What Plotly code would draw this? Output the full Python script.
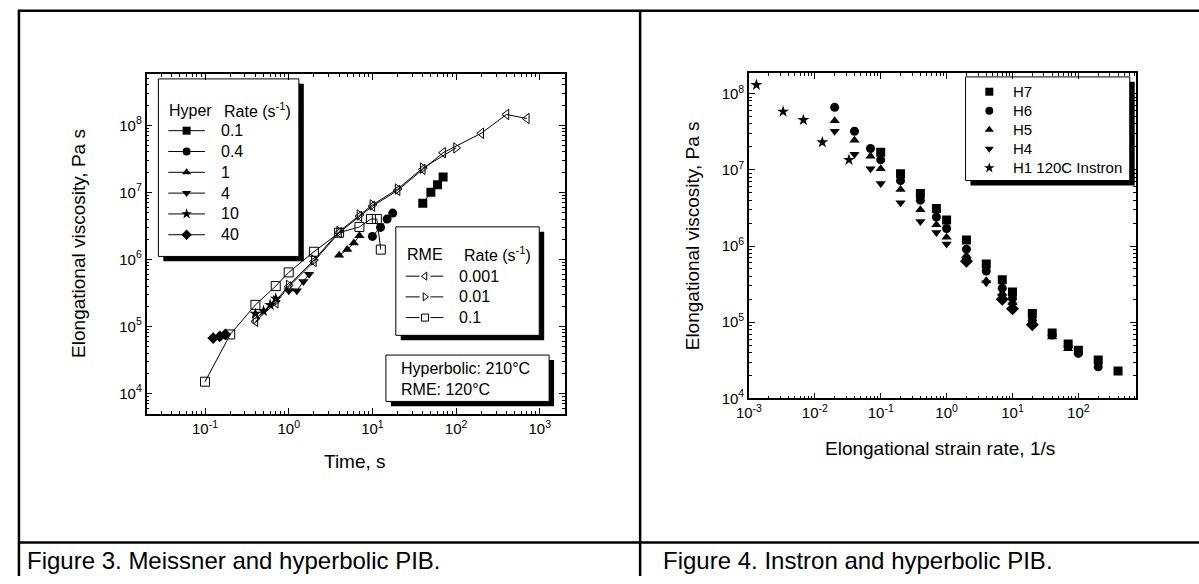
import plotly.graph_objects as go

W, H = 1199, 584
FONT = "Liberation Sans, Arial, sans-serif"

# ---------------- Figure 3 data (left) ----------------
hyper_labels = ["0.1", "0.4", "1", "4", "10", "40"]
hyper_symbols = ["square", "circle", "triangle-up", "triangle-down", "star", "diamond"]
hyper_t = [
    [40, 50, 60, 70],
    [10, 12.5, 15, 17.5],
    [4, 5, 6, 7],
    [1, 1.25, 1.5, 1.75],
    [0.4, 0.5, 0.6, 0.7],
    [0.125, 0.15, 0.175],
]
hyper_eta = [
    [6.9e6, 1.0e7, 1.3e7, 1.7e7],
    [2.2e6, 3.0e6, 4.0e6, 4.9e6],
    [1.15e6, 1.4e6, 1.75e6, 2.25e6],
    [3.4e5, 3.4e5, 4.7e5, 6.0e5],
    [1.55e5, 1.7e5, 2.1e5, 2.6e5],
    [6.7e4, 7.1e4, 7.6e4],
]

rme_labels = ["0.001", "0.01", "0.1"]
rme_symbols = ["triangle-left-open", "triangle-right-open", "square-open"]
rme_t = [
    [0.4, 0.7, 1, 2, 4, 7, 10, 20, 40, 70, 200, 400, 700],
    [0.4, 0.7, 1, 2, 4, 7, 10, 20, 40, 100],
    [0.1, 0.2, 0.4, 0.7, 1, 2, 4, 7, 9.6, 11.3, 12.6],
]
rme_eta = [
    [1.19e5, 2.25e5, 3.9e5, 9.3e5, 2.5e6, 4.4e6, 6.2e6, 1.07e7, 2.2e7, 3.9e7, 7.6e7, 1.45e8, 1.26e8],
    [1.3e5, 2.4e5, 4.1e5, 9.8e5, 2.6e6, 4.6e6, 6.5e6, 1.12e7, 2.3e7, 4.6e7],
    [1.5e4, 7.6e4, 2.1e5, 4.0e5, 6.4e5, 1.3e6, 2.5e6, 3.05e6, 4.0e6, 4.0e6, 1.4e6],
]

left_xticks = [0.1, 1, 10, 100, 1000]
left_xticktext = ["10<sup>-1</sup>", "10<sup>0</sup>", "10<sup>1</sup>", "10<sup>2</sup>", "10<sup>3</sup>"]
left_yticks = [1e4, 1e5, 1e6, 1e7, 1e8]
left_yticktext = ["10<sup>4</sup>", "10<sup>5</sup>", "10<sup>6</sup>", "10<sup>7</sup>", "10<sup>8</sup>"]

# ---------------- Figure 4 data (right) ----------------
r_labels = ["H7", "H6", "H5", "H4", "H1 120C Instron"]
r_symbols = ["square", "circle", "triangle-up", "triangle-down", "star"]
r_rate = [
    [0.1, 0.2, 0.4, 0.7, 1, 2, 4, 7, 10, 20, 40, 70, 100, 200, 400],
    [0.02, 0.04, 0.07, 0.1, 0.2, 0.4, 0.7, 1, 2, 4, 7, 10, 20, 40, 70, 100, 200],
    [0.02, 0.04, 0.07, 0.1, 0.2, 0.4, 0.7, 1, 2, 4, 7, 10, 20, 40, 70],
    [0.02, 0.04, 0.07, 0.1, 0.2, 0.4, 0.7, 1, 2, 4, 7, 10, 20],
    [0.0013, 0.0033, 0.0067, 0.013, 0.033],
]
r_eta = [
    [1.7e7, 8.9e6, 4.9e6, 3.1e6, 2.2e6, 1.2e6, 5.8e5, 3.6e5, 2.5e5, 1.3e5, 7.2e4, 5.2e4, 4.3e4, 3.2e4, 2.3e4],
    [6.6e7, 3.2e7, 1.9e7, 1.35e7, 7.2e6, 4.0e6, 2.4e6, 1.7e6, 9.1e5, 4.7e5, 2.8e5, 2.05e5, 1.06e5, 6.8e4, 4.8e4, 3.9e4, 2.6e4],
    [4.4e7, 2.45e7, 1.5e7, 1.03e7, 5.5e6, 3.0e6, 1.9e6, 1.3e6, 7.5e5, 3.5e5, 2.4e5, 1.8e5, 9.6e4, 6.4e4, 4.5e4],
    [3.2e7, 1.6e7, 1.03e7, 6.6e6, 3.7e6, 2.1e6, 1.5e6, 1.06e6, 6.6e5, 3.3e5, 2.2e5, 1.7e5, 9.0e4],
    [1.3e8, 5.8e7, 4.5e7, 2.3e7, 1.35e7],
]
h3_rate = [2, 7, 10, 20]
h3_eta = [6.3e5, 2.0e5, 1.5e5, 9.3e4]

right_xticks = [1e-3, 1e-2, 1e-1, 1, 10, 100]
right_xticktext = ["10<sup>-3</sup>", "10<sup>-2</sup>", "10<sup>-1</sup>", "10<sup>0</sup>", "10<sup>1</sup>", "10<sup>2</sup>"]

captions = ["Figure 3. Meissner and hyperbolic PIB.", "Figure 4. Instron and hyperbolic PIB."]


def minor_vals(lo, hi):
    vals = []
    for e in range(lo, hi + 1):
        for m in range(2, 10):
            vals.append(m * 10.0 ** e)
    return vals


def px(x):
    return x / W


def py(y):
    return 1 - y / H


fig = go.Figure()

# left plot traces
for t, v, s in zip(rme_t, rme_eta, rme_symbols):
    fig.add_trace(go.Scatter(x=t, y=v, mode="lines+markers", xaxis="x", yaxis="y",
                             line=dict(color="black", width=1),
                             marker=dict(symbol=s, size=9, color="black", line=dict(width=1, color="black")),
                             showlegend=False))
for t, v, s in zip(hyper_t, hyper_eta, hyper_symbols):
    fig.add_trace(go.Scatter(x=t, y=v, mode="lines+markers", xaxis="x", yaxis="y",
                             line=dict(color="black", width=1),
                             marker=dict(symbol=s, size=9, color="black", line=dict(width=0)),
                             showlegend=False))

# right plot traces
for r, v, s in zip(r_rate, r_eta, r_symbols):
    fig.add_trace(go.Scatter(x=r, y=v, mode="markers", xaxis="x2", yaxis="y2",
                             marker=dict(symbol=s, size=9, color="black", line=dict(width=0)),
                             showlegend=False))
fig.add_trace(go.Scatter(x=h3_rate, y=h3_eta, mode="markers", xaxis="x2", yaxis="y2",
                         marker=dict(symbol="diamond", size=10, color="black", line=dict(width=0)),
                         showlegend=False))

# ---------------- manual legends (overlay pixel axes) ----------------
shapes = []
annotations = []


def box(x0, y0, x1, y1, off=5):
    shapes.append(dict(type="rect", xref="paper", yref="paper", x0=px(x0 + off), x1=px(x1 + off),
                       y0=py(y1 + off), y1=py(y0 + off), fillcolor="black", line=dict(width=0), layer="below"))
    shapes.append(dict(type="rect", xref="paper", yref="paper", x0=px(x0), x1=px(x1),
                       y0=py(y1), y1=py(y0), fillcolor="white", line=dict(color="black", width=1), layer="below"))


def text(x, y, s, size=16, anchor="left", angle=0):
    annotations.append(dict(x=px(x), y=py(y), xref="paper", yref="paper", text=s, showarrow=False,
                            xanchor=anchor, yanchor="middle", textangle=angle,
                            font=dict(family=FONT, size=size, color="black")))


# Hyper legend
box(147, 80, 289, 260)
text(156, 112, "Hyper")
text(211, 112, "Rate (s<sup>-1</sup>)")
for i, (lab, sym) in enumerate(zip(hyper_labels, hyper_symbols)):
    yy = 132.5 + 21.1 * i
    fig.add_trace(go.Scatter(x=[157, 194], y=[yy, yy], mode="lines", xaxis="x3", yaxis="y3",
                             line=dict(color="black", width=1), showlegend=False, hoverinfo="skip"))
    fig.add_trace(go.Scatter(x=[175.5], y=[yy], mode="markers", xaxis="x3", yaxis="y3",
                             marker=dict(symbol=sym, size=8, color="black", line=dict(width=0)),
                             showlegend=False, hoverinfo="skip"))
    text(208, yy, lab)

# RME legend
box(387, 230, 532, 340)
text(396, 258, "RME")
text(454, 258, "Rate (s<sup>-1</sup>)")
for i, (lab, sym) in enumerate(zip(rme_labels, rme_symbols)):
    yy = 280 + 21 * i
    fig.add_trace(go.Scatter(x=[397, 411, None, 422, 435], y=[yy, yy, None, yy, yy], mode="lines",
                             xaxis="x3", yaxis="y3", line=dict(color="black", width=1),
                             showlegend=False, hoverinfo="skip"))
    fig.add_trace(go.Scatter(x=[416.5], y=[yy], mode="markers", xaxis="x3", yaxis="y3",
                             marker=dict(symbol=sym, size=7, color="black", line=dict(width=1)),
                             showlegend=False, hoverinfo="skip"))
    text(449, yy, lab)

# temperature box
box(377, 360, 542, 407)
text(390, 374, "Hyperbolic: 210°C")
text(390, 395, "RME: 120°C")

# right legend
box(963, 78, 1129, 183)
for i, (lab, sym) in enumerate(zip(r_labels, r_symbols)):
    yy = 93 + 19.3 * i
    fig.add_trace(go.Scatter(x=[987], y=[yy], mode="markers", xaxis="x3", yaxis="y3",
                             marker=dict(symbol=sym, size=8, color="black", line=dict(width=0)),
                             showlegend=False, hoverinfo="skip"))
    text(1009, yy, lab, size=15)

# axis titles
text(346, 468, "Time, s", size=19, anchor="center")
text(66, 247, "Elongational viscosity, Pa s", size=19, anchor="center", angle=-90)
text(937, 455, "Elongational strain rate, 1/s", size=19, anchor="center")
text(687, 239, "Elongational viscosity, Pa s", size=19, anchor="center", angle=-90)

# captions
text(12, 568, captions[0], size=24)
text(655, 568, captions[1], size=24)

# table lines
for (x0, y0, x1, y1) in [(5, 11, 1199, 11), (6, 10, 6, 584), (634, 10, 634, 584), (5, 550, 1199, 550)]:
    shapes.append(dict(type="line", xref="paper", yref="paper", x0=px(x0), x1=px(x1), y0=py(y0), y1=py(y1),
                       line=dict(color="black", width=2.5), layer="above"))

ax_common = dict(type="log", showline=True, linecolor="black", linewidth=1.5, mirror="ticks",
                 ticks="inside", ticklen=6, tickwidth=1, tickcolor="black", showgrid=False, zeroline=False,
                 tickfont=dict(family=FONT, size=15, color="black"), tickmode="array")

fig.update_layout(
    width=W, height=H, autosize=False, margin=dict(l=0, r=0, t=0, b=0, pad=0),
    paper_bgcolor="white", plot_bgcolor="rgba(0,0,0,0)", showlegend=False,
    xaxis=dict(ax_common, domain=[px(135), px(558)], range=[-1.699, 3.301], anchor="y",
               tickvals=left_xticks, ticktext=left_xticktext,
               minor=dict(ticks="inside", ticklen=3, tickwidth=1, tickcolor="black", showgrid=False,
                          tickmode="array", tickvals=minor_vals(-2, 3))),
    yaxis=dict(ax_common, domain=[py(420), py(75)], range=[3.691, 8.765], anchor="x",
               tickvals=left_yticks, ticktext=left_yticktext,
               minor=dict(ticks="inside", ticklen=3, tickwidth=1, tickcolor="black", showgrid=False,
                          tickmode="array", tickvals=minor_vals(3, 8))),
    xaxis2=dict(ax_common, domain=[px(744), px(1135)], range=[-3.0, 2.87], anchor="y2",
                tickvals=right_xticks, ticktext=right_xticktext,
                minor=dict(ticks="inside", ticklen=3, tickwidth=1, tickcolor="black", showgrid=False,
                           tickmode="array", tickvals=minor_vals(-3, 2))),
    yaxis2=dict(ax_common, domain=[py(404), py(74)], range=[4.0, 8.27], anchor="x2",
                tickvals=left_yticks, ticktext=left_yticktext,
                minor=dict(ticks="inside", ticklen=3, tickwidth=1, tickcolor="black", showgrid=False,
                           tickmode="array", tickvals=minor_vals(4, 8))),
    xaxis3=dict(domain=[0, 1], range=[0, W], visible=False, anchor="y3", fixedrange=True),
    yaxis3=dict(domain=[0, 1], range=[H, 0], visible=False, anchor="x3", fixedrange=True),
    shapes=shapes, annotations=annotations,
)

fig.write_html("out.html", config={"displayModeBar": False},
               post_script="document.body.style.margin='0';")
